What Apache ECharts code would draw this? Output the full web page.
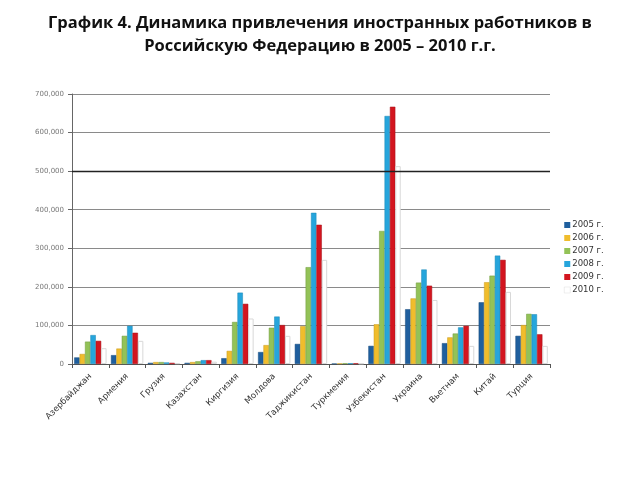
<!DOCTYPE html>
<html><head><meta charset="utf-8">
<script src="https://cdn.jsdelivr.net/npm/echarts@6/dist/echarts.min.js"></script>
<style>html,body{margin:0;padding:0;background:#fff}#c{width:640px;height:480px}</style>
</head><body><div id="c"></div>
<script>
const titleText = 'График 4. Динамика привлечения иностранных работников в\nРоссийскую Федерацию в 2005 – 2010 г.г.';
const categories = ['Азербайджан','Армения','Грузия','Казахстан','Киргизия','Молдова','Таджикистан','Туркмения','Узбекистан','Украина','Вьетнам','Китай','Турция'];
const seriesNames = ['2005 г.','2006 г.','2007 г.','2008 г.','2009 г.','2010 г.'];
const v2005 = [17000, 23000, 3000, 3000, 15000, 31000, 52000, 1000, 47000, 142000, 54000, 160000, 73000];
const v2006 = [26000, 40000, 5000, 5000, 34000, 49000, 98000, 1500, 103000, 170000, 69000, 212000, 101000];
const v2007 = [58000, 73000, 5000, 7000, 109000, 94000, 251000, 2000, 345000, 211000, 79000, 229000, 130000];
const v2008 = [75000, 99000, 4000, 10000, 185000, 123000, 392000, 2000, 643000, 245000, 95000, 281000, 129000];
const v2009 = [60000, 81000, 3000, 10000, 156000, 101000, 361000, 2000, 667000, 203000, 99000, 270000, 77000];
const v2010 = [41000, 60000, 2000, 6000, 118000, 73000, 270000, 1500, 513000, 166000, 47000, 187000, 47000];
const yTicks = [0, 100000, 200000, 300000, 400000, 500000, 600000, 700000];

const colors = ['#1f5f9e', '#f0bd2c', '#93c257', '#26a5dc', '#d3151f', '#ffffff'];
const borders = ['#174a7c', '#c99a1c', '#6f9a3d', '#1a86b5', '#a50f16', '#d8d8d8'];
const data = [v2005, v2006, v2007, v2008, v2009, v2010];

const chart = echarts.init(document.getElementById('c'), null, {renderer: 'canvas'});
chart.setOption({
  animation: false,
  backgroundColor: '#fff',
  title: {
    text: titleText, left: 'center', top: 7,
    textStyle: {fontFamily: 'Open Sans', fontWeight: 'bold', fontSize: 16.5, lineHeight: 23, color: '#111'}
  },
  legend: {
    orient: 'vertical', left: 559, top: 215, itemWidth: 6, itemHeight: 6, itemGap: 3,
    icon: 'rect',
    itemStyle: {borderWidth: 0},
    textStyle: {fontFamily: 'DejaVu Sans', fontSize: 8.5, lineHeight: 10, color: '#333', padding: [0,0,0,-3]},
    data: seriesNames.map((n, i) => ({name: n, itemStyle: i === 5 ? {borderColor: '#ddd', borderWidth: 0.5} : {}}))
  },
  grid: {left: 72, right: 90, top: 94, bottom: 116},
  xAxis: {
    type: 'category', data: categories,
    axisLine: {lineStyle: {color: '#555'}},
    axisTick: {show: true, length: 4, lineStyle: {color: '#555'}},
    axisLabel: {rotate: 45, fontFamily: 'DejaVu Sans', fontSize: 8.5, color: '#333', margin: 11, interval: 0}
  },
  yAxis: {
    type: 'value', min: 0, max: 700000, interval: 100000,
    axisLine: {show: true, lineStyle: {color: '#666'}},
    axisTick: {show: true, length: 4, lineStyle: {color: '#666'}},
    axisLabel: {fontFamily: 'DejaVu Sans', fontSize: 7, color: '#777', margin: 8,
      formatter: v => v === 0 ? '0' : v.toLocaleString('en-US')},
    splitLine: {lineStyle: {color: '#8a8a8a', width: 1}}
  },
  series: seriesNames.map((n, i) => ({
    name: n, type: 'bar', data: data[i],
    barGap: '0%', barCategoryGap: '12%',
    itemStyle: {color: colors[i], borderColor: borders[i], borderWidth: i === 5 ? 1 : 0.5},
    markLine: i === 0 ? {silent: true, symbol: 'none', label: {show: false},
      lineStyle: {color: '#222', type: 'solid', width: 1.3}, data: [{yAxis: yTicks[5]}]} : undefined
  }))
});
</script></body></html>
